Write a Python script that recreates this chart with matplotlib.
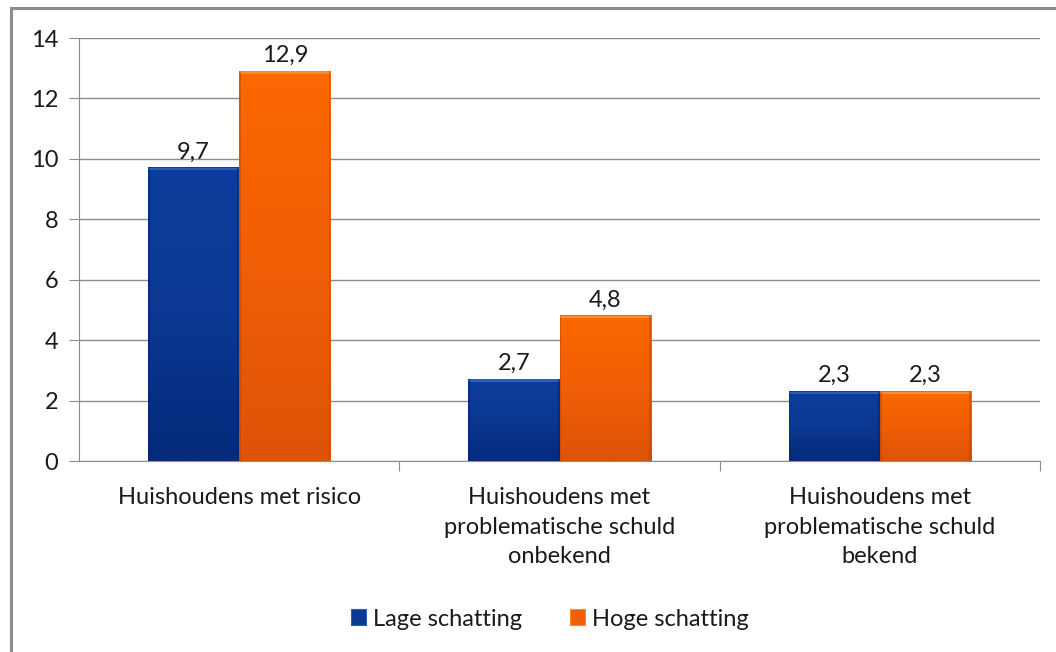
import numpy as np
import matplotlib
matplotlib.use("Agg")
import matplotlib.pyplot as plt
from matplotlib.patches import Rectangle, Patch
from matplotlib.colors import LinearSegmentedColormap

categories = ["Huishoudens met risico",
              "Huishoudens met\nproblematische schuld\nonbekend",
              "Huishoudens met\nproblematische schuld\nbekend"]
series_names = ["Lage schatting", "Hoge schatting"]
lage = [9.7, 2.7, 2.3]
hoge = [12.9, 4.8, 2.3]
yticks = [0, 2, 4, 6, 8, 10, 12, 14]

plt.rcParams['font.family'] = ['Lato', 'DejaVu Sans']
FS = 17
TXT = '#1a1a1a'
W, H = 1056, 652
fig = plt.figure(figsize=(W/100, H/100), dpi=100)
fig.patch.set_facecolor('white')

# frame lines (top and left)
fig.add_artist(plt.Line2D([11/W, 1], [1-8/H, 1-8/H], color='#8c8c8c', lw=2.2, transform=fig.transFigure))
fig.add_artist(plt.Line2D([11/W, 11/W], [0, 1-8/H], color='#8c8c8c', lw=2.2, transform=fig.transFigure))

ax = fig.add_axes([79/W, 1-461/H, (1040-79)/W, (461-38)/H])
ax.set_xlim(0, 3)
ax.set_ylim(0, 14)
ax.set_yticks(yticks)
ax.set_yticklabels([str(t) for t in yticks], fontsize=FS, color=TXT)
ax.grid(axis='y', color='#8c8c8c', lw=1.0)
ax.set_axisbelow(True)
for s in ['top', 'right']:
    ax.spines[s].set_visible(False)
ax.spines['left'].set_color('#8c8c8c')
ax.spines['bottom'].set_color('#8c8c8c')
ax.tick_params(axis='y', length=7, color='#8c8c8c', pad=8)
ax.set_xticks([1, 2, 3])
ax.set_xticklabels([])
ax.tick_params(axis='x', length=7, color='#8c8c8c', direction='out')

x = np.arange(3) + 0.5
bw = 0.285

blue_cmap = LinearSegmentedColormap.from_list('b', [(0, '#052a7a'), (0.5, '#0a3892'), (1, '#0c3d9c')])
orange_cmap = LinearSegmentedColormap.from_list('o', [(0, '#dd5308'), (0.5, '#f05e06'), (1, '#fc6802')])

bars_l = ax.bar(x - bw/2, lage, bw, color='#0a3892', zorder=2)
bars_h = ax.bar(x + bw/2, hoge, bw, color='#f25f06', zorder=2)

grad = np.linspace(0, 1, 100).reshape(-1, 1)
for bars, cmap, light, dark in [(bars_l, blue_cmap, '#2c5cc0', '#04246a'),
                                (bars_h, orange_cmap, '#ff8a30', '#b84404')]:
    for b in bars:
        x0, w, h = b.get_x(), b.get_width(), b.get_height()
        ax.imshow(grad, cmap=cmap, aspect='auto', extent=[x0, x0+w, 0, h],
                  origin='lower', zorder=2.1)
        ax.add_patch(Rectangle((x0, h - 0.08), w, 0.08, color=light, zorder=2.2, lw=0))
        ax.add_patch(Rectangle((x0, 0), w*0.02, h, color=dark, alpha=0.5, zorder=2.2, lw=0))
        ax.add_patch(Rectangle((x0 + w*0.98, 0), w*0.02, h, color=dark, alpha=0.5, zorder=2.2, lw=0))
        ax.annotate(f"{h:.1f}".replace('.', ','), (x0 + w/2, h), xytext=(0, 4),
                    textcoords='offset points', ha='center', va='bottom',
                    fontsize=FS, color=TXT)

# category labels
for xi, lab in zip(x, categories):
    ax.annotate(lab, (xi, 0), xytext=(0, -19), textcoords='offset points',
                ha='center', va='top', fontsize=FS, color=TXT, linespacing=1.5)

# legend
handles = [Patch(facecolor='#0a3892', edgecolor='#2c5cc0', lw=0.8),
           Patch(facecolor='#f25f06', edgecolor='#ff8a30', lw=0.8)]
leg = fig.legend(handles, series_names, loc='center', bbox_to_anchor=(550/W, 1-619/H),
                 ncol=2, frameon=False, fontsize=FS, handlelength=0.65, handleheight=0.65,
                 handletextpad=0.3, columnspacing=2.0)
for t in leg.get_texts():
    t.set_color(TXT)

fig.savefig('out.png', dpi=100, facecolor='white')
